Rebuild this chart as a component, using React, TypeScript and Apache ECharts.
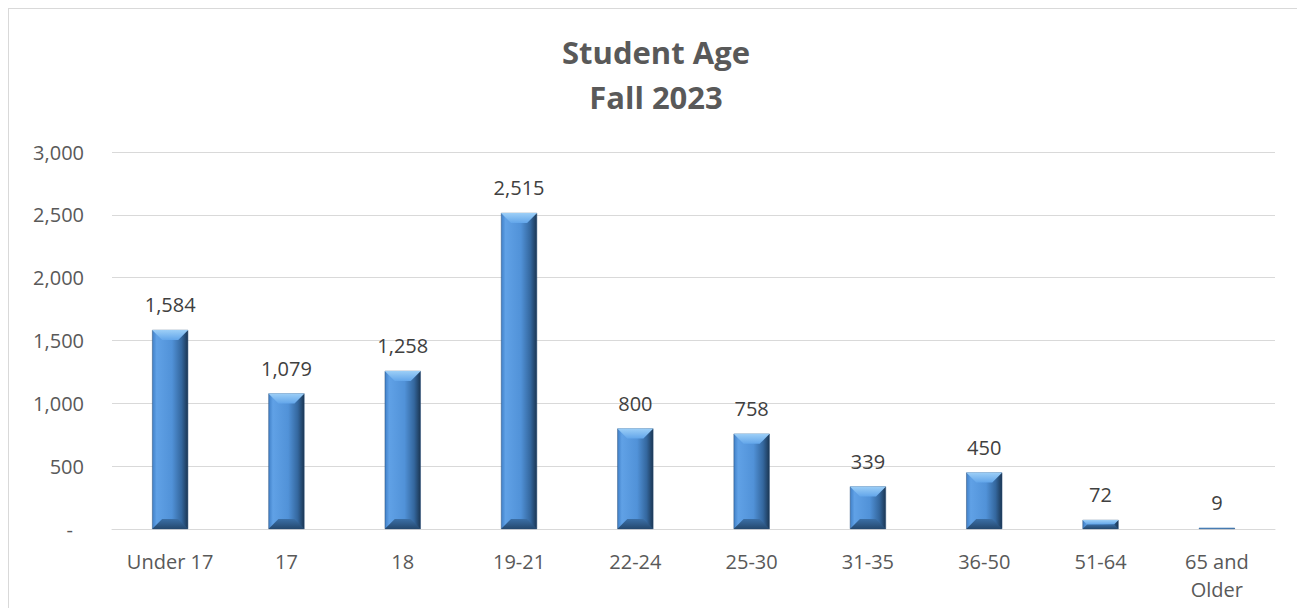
import React, { useEffect, useRef } from "react";
import * as echarts from "echarts";

const categories = ["Under 17", "17", "18", "19-21", "22-24", "25-30", "31-35", "36-50", "51-64", "65 and\nOlder"];
const values = [1584, 1079, 1258, 2515, 800, 758, 339, 450, 72, 9];
const yTicks = [0, 500, 1000, 1500, 2000, 2500, 3000];
const titleLines = ["Student Age", "Fall 2023"];

const FONT = "'Open Sans', 'Noto Sans', sans-serif";
const BAR_FRAC = 0.31;

export default function App() {
  const ref = useRef<HTMLDivElement>(null);
  useEffect(() => {
    if (!ref.current) return;
    const chart = echarts.init(ref.current, undefined, { renderer: "svg" });
    const bodyGrad = new echarts.graphic.LinearGradient(0, 0, 1, 0, [
      { offset: 0, color: "#4080c8" },
      { offset: 0.12, color: "#60a1e6" },
      { offset: 0.55, color: "#5192d8" },
      { offset: 0.82, color: "#34679e" },
      { offset: 1, color: "#1b3653" },
    ]);
    chart.setOption({
      animation: false,
      textStyle: { fontFamily: FONT },
      title: {
        text: titleLines.join("\n"),
        left: "center",
        top: 15,
        textStyle: { fontFamily: FONT, fontSize: 31, fontWeight: "bold", color: "#595959", lineHeight: 45 },
      },
      grid: { left: 103, right: 28, top: 143, bottom: 79 },
      xAxis: {
        type: "category",
        data: categories,
        axisLine: { lineStyle: { color: "#d9d9d9" } },
        axisTick: { show: false },
        axisLabel: { color: "#595959", fontSize: 20, margin: 18, lineHeight: 28, interval: 0 },
      },
      yAxis: {
        type: "value",
        min: yTicks[0],
        max: yTicks[yTicks.length - 1],
        interval: 500,
        axisLine: { show: false },
        axisTick: { show: false },
        splitLine: { lineStyle: { color: "#d9d9d9" } },
        axisLabel: {
          color: "#595959",
          fontSize: 20,
          margin: 28,
          formatter: (v: number) => (v === 0 ? "{z|-}" : v.toLocaleString("en-US")),
          rich: { z: { color: "#595959", fontSize: 20, padding: [0, 11, 0, 0] } },
        },
      },
      series: [
        {
          type: "bar",
          data: values,
          barWidth: BAR_FRAC * 100 + "%",
          itemStyle: { color: bodyGrad, borderColor: "#2a4f78", borderWidth: 0.5 },
          label: {
            show: true,
            position: "top",
            distance: 15,
            color: "#404040",
            fontSize: 20,
            formatter: (p: any) => Number(p.value).toLocaleString("en-US"),
          },
          z: 2,
        },
        {
          type: "custom",
          data: values.map((v, i) => [i, v]),
          z: 3,
          silent: true,
          renderItem: (params: any, api: any) => {
            const idx = api.value(0);
            const val = api.value(1);
            const top = api.coord([idx, val]);
            const bot = api.coord([idx, 0]);
            const w = api.size([1, 0])[0] * BAR_FRAC;
            const x0 = top[0] - w / 2;
            const x1 = top[0] + w / 2;
            const h = bot[1] - top[1];
            const b = Math.min(10, h / 2);
            return {
              type: "group",
              children: [
                {
                  type: "polygon",
                  shape: { points: [[x0, top[1]], [x1, top[1]], [x1 - b, top[1] + b], [x0 + b, top[1] + b]] },
                  style: {
                    fill: new echarts.graphic.LinearGradient(0, 0, 0, 1, [
                      { offset: 0, color: "#9dcff7" },
                      { offset: 1, color: "#63a6ea" },
                    ]),
                  },
                },
                {
                  type: "polygon",
                  shape: { points: [[x0, bot[1]], [x1, bot[1]], [x1 - b, bot[1] - b], [x0 + b, bot[1] - b]] },
                  style: {
                    fill: new echarts.graphic.LinearGradient(0, 0, 0, 1, [
                      { offset: 0, color: "#3b6fa6" },
                      { offset: 1, color: "#24486e" },
                    ]),
                  },
                },
              ],
            };
          },
        },
      ],
    });
    return () => chart.dispose();
  }, []);
  return (
    <div
      style={{
        width: 1296,
        height: 600,
        boxSizing: "border-box",
        borderTop: "1px solid #d9d9d9",
        borderLeft: "1px solid #d9d9d9",
        borderRight: "1px solid #d9d9d9",
      }}
    >
      <div ref={ref} style={{ width: 1294, height: 599 }} />
    </div>
  );
}
